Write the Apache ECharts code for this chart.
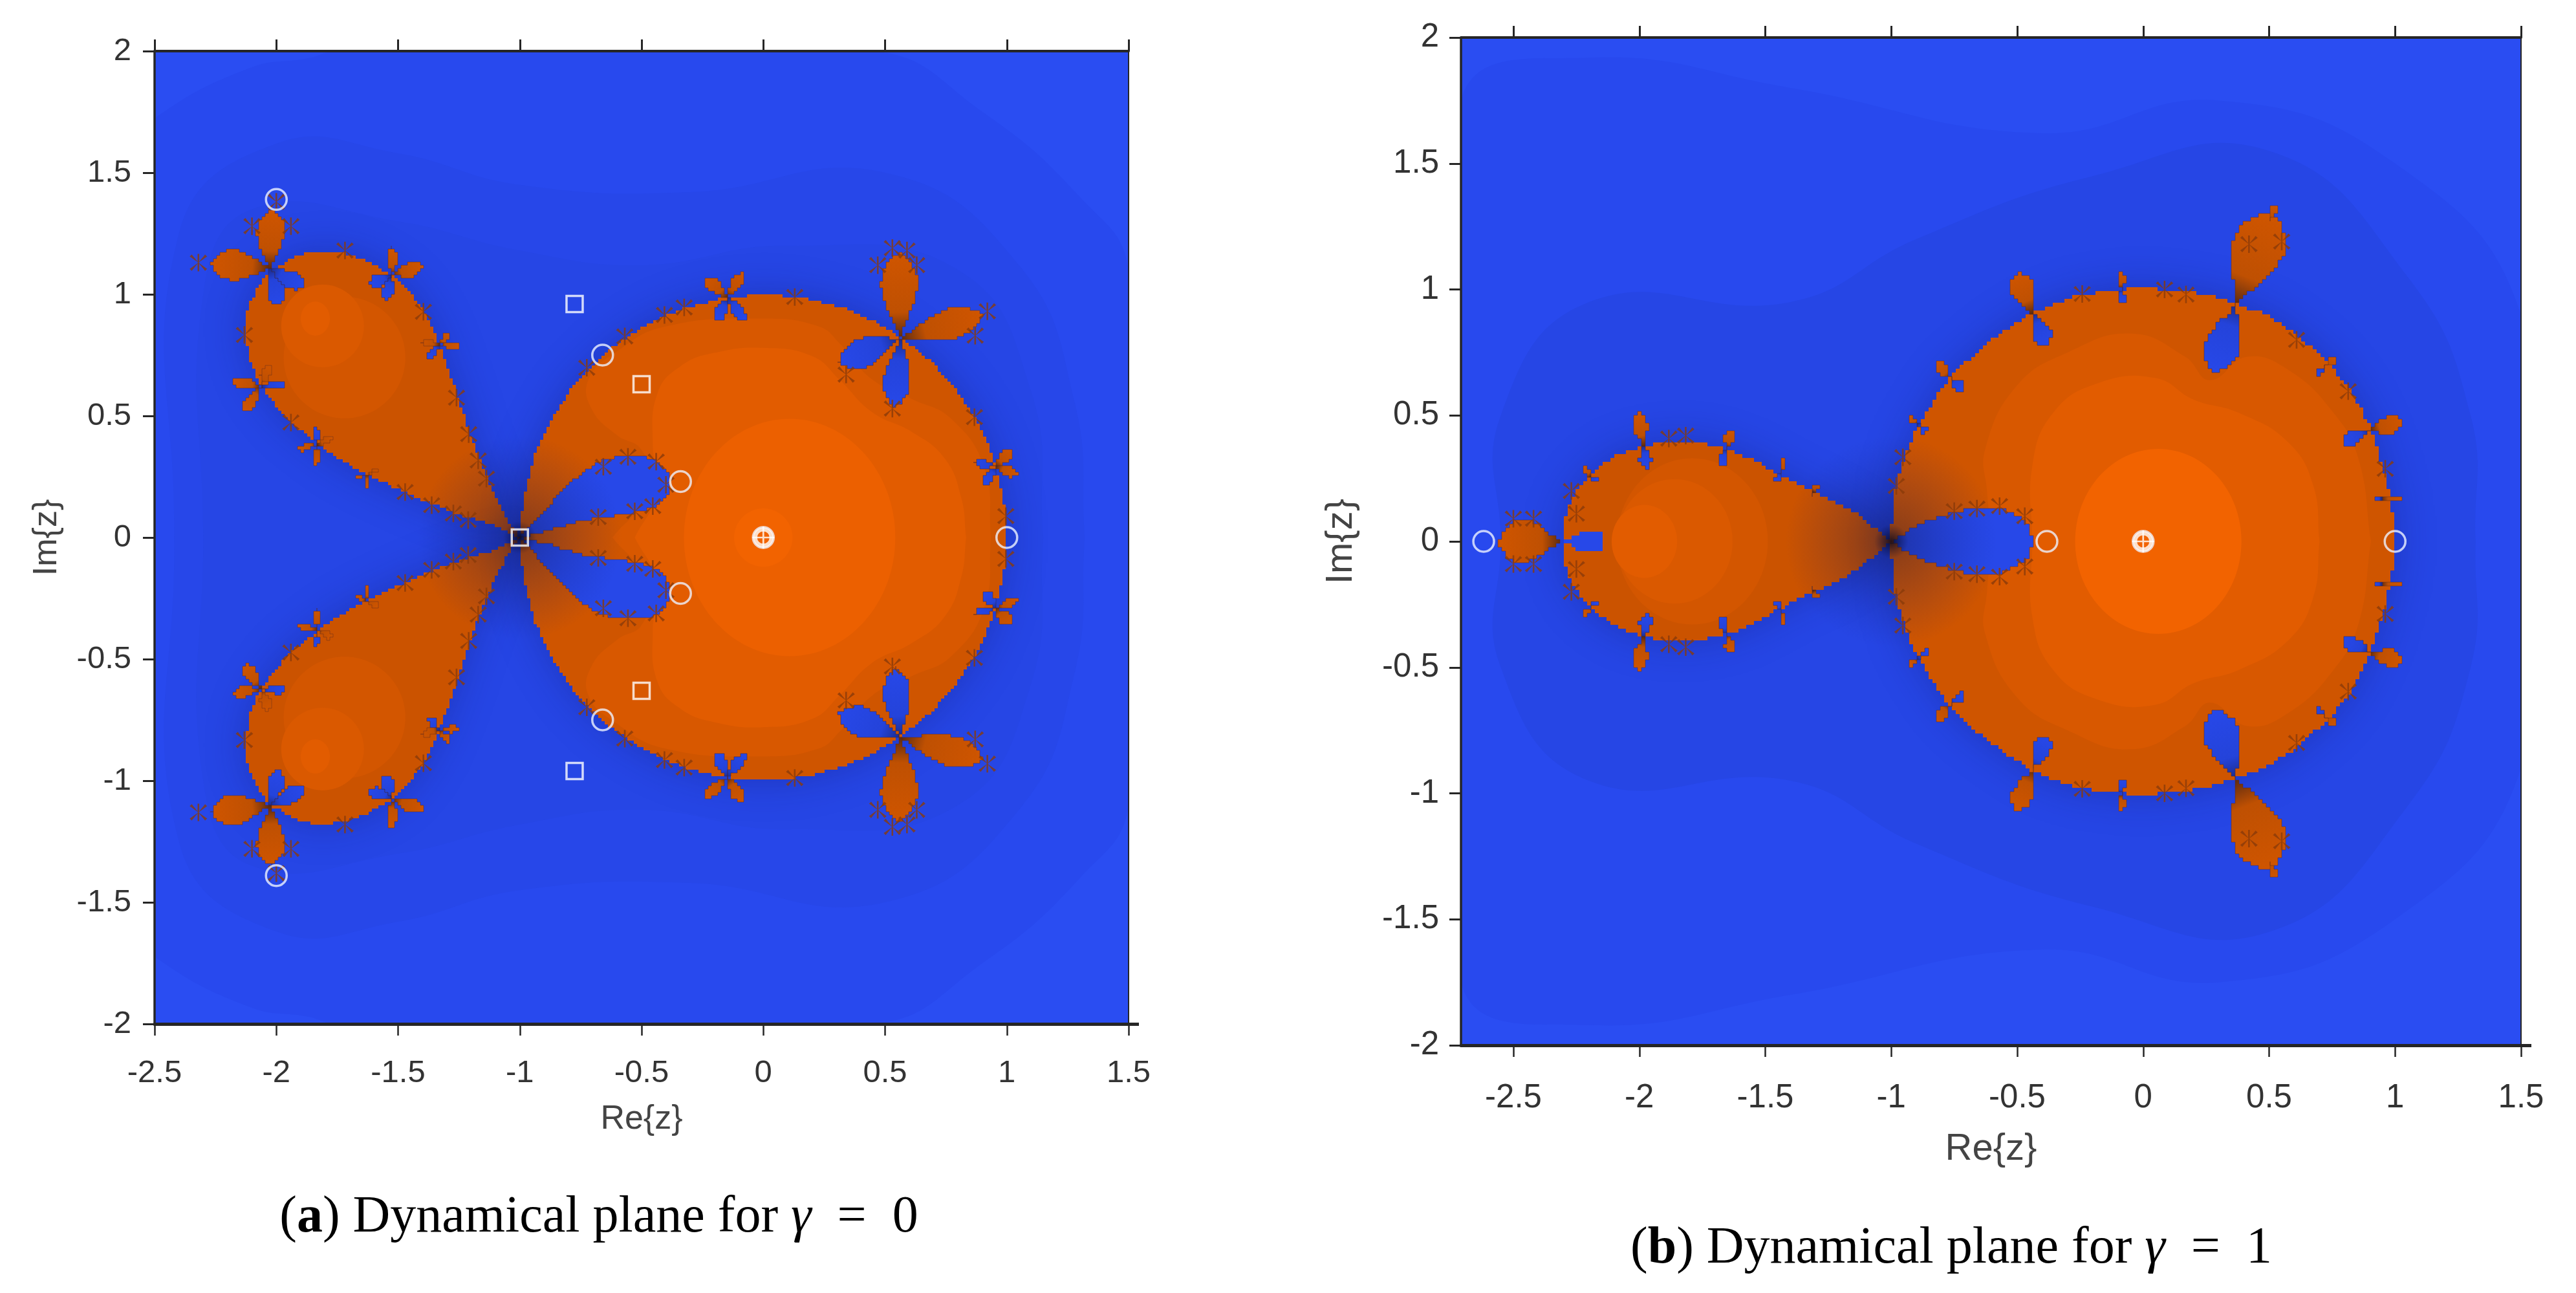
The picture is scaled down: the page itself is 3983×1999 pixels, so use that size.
<!DOCTYPE html>
<html><head><meta charset="utf-8"><style>html,body{margin:0;padding:0;background:#fff}#c{width:3983px;height:1999px}</style>
<script src="https://cdn.jsdelivr.net/npm/echarts@6/dist/echarts.min.js"></script></head><body><div id="c"></div>
<script>
// ---------- tick labels ----------
const xTicks=[-2.5,-2,-1.5,-1,-0.5,0,0.5,1,1.5];
const yTicks=[-2,-1.5,-1,-0.5,0,0.5,1,1.5,2];
const captionA=['(','a',') Dynamical plane for ','γ','  =  0'];
const captionB=['(','b',') Dynamical plane for ','γ','  =  1'];
// ---------- panel (a): upper halves, [Re, Im] ----------
const aBgOuter=[[-2.39,0],[-2.5,0],[-2.5,1.66],[-2.49,1.73],[-2.11,1.93],[-1.87,1.97],[-1.75,2],[0.45,2],[0.9,1.75],[1.3,1.4],[1.5,1.1],[1.5,0]];
const aBgInner=[[-2.42,0],[-2.4,1.25],[-2,1.62],[-1.5,1.58],[-1,1.45],[-0.3,1.42],[0.5,1.5],[1.05,1.12],[1.28,0.55],[1.32,0]];
const aBgNear=[[-2.3,0],[-2.3,1],[-2.1,1.35],[-1.5,1.3],[-1,1.18],[-0.5,1.12],[0.1,1.2],[0.8,1.1],[1.1,0.6],[1.15,0]];
const aLobe=[[-1,0],[-1.103,0.052],[-1.28,0.106],[-1.457,0.181],[-1.648,0.269],[-1.784,0.351],[-1.92,0.459],[-2.001,0.541],[-2.069,0.636],[-2.11,0.731],[-2.127,0.853],[-2.117,0.948],[-2.069,1.043],[-2.026,1.105],[-1.988,1.118],[-1.92,1.159],[-1.838,1.179],[-1.743,1.173],[-1.648,1.145],[-1.525,1.077],[-1.457,1.01],[-1.389,0.921],[-1.335,0.799],[-1.294,0.69],[-1.239,0.527],[-1.185,0.364],[-1.117,0.201],[-1.049,0.065]];
const aLobeBand2=[[-1.72,0.74,0.25,0.25]];
const aLobeBand1=[[-1.81,0.87,0.17,0.17]];
const aLobeBand0=[[-1.84,0.9,0.06,0.07]];
const aDisc=[[-1,0],[-0.985,0.17],[-0.94,0.34],[-0.87,0.49],[-0.77,0.64],[-0.64,0.77],[-0.5,0.865],[-0.34,0.94],[-0.17,0.985],[0,1],[0.17,0.985],[0.34,0.94],[0.46,0.885],[0.562,0.82],[0.68,0.73],[0.78,0.62],[0.87,0.49],[0.94,0.34],[0.985,0.17],[1,0]];
const aBand3=[[-0.62,0],[-0.46,0.2],[-0.5,0.36],[-0.6,0.42],[-0.705,0.528],[-0.718,0.65],[-0.61,0.759],[-0.406,0.867],[0,0.9],[0.23,0.867],[0.312,0.8],[0.447,0.65],[0.61,0.57],[0.772,0.488],[0.908,0.285],[0.935,0]];
const aBand2=[[-0.528,0],[-0.434,0.19],[-0.454,0.379],[-0.434,0.596],[-0.339,0.705],[-0.203,0.759],[0,0.78],[0.203,0.745],[0.312,0.65],[0.447,0.515],[0.61,0.434],[0.745,0.325],[0.813,0.163],[0.833,0]];
const aCore=[[0.108,0,0.434,0.488]];
const aHot=[[0,0,0.12,0.12]];
const aLens=[[-1,0],[-0.92,0.09],[-0.84,0.18],[-0.745,0.27],[-0.66,0.32],[-0.576,0.335],[-0.5,0.335],[-0.44,0.318],[-0.4,0.28],[-0.386,0.244],[-0.38,0.21],[-0.386,0.183],[-0.415,0.145],[-0.447,0.122],[-0.528,0.102],[-0.664,0.081],[-0.745,0.07],[-0.87,0.03]];
const aOrangePetals=[[-2.026,1.105,-2.02,1.35,0.115],[-2.026,1.105,-2.267,1.13,0.125],[-1.525,1.077,-1.525,1.193,0.045],[-1.525,1.077,-1.396,1.118,0.06],[-1.331,0.792,-1.287,0.846,0.03],[-1.331,0.792,-1.248,0.785,0.03],[-1.331,0.792,-1.403,0.806,0.03],[-2.063,0.622,-2.178,0.643,0.045],[-2.063,0.622,-2.029,0.711,0.045],[-2.063,0.622,-2.131,0.52,0.05],[-1.831,0.38,-1.913,0.364,0.03],[-1.831,0.38,-1.77,0.412,0.03],[-1.831,0.38,-1.838,0.296,0.03],[-1.63,0.258,-1.68,0.24,0.02],[-1.63,0.258,-1.58,0.283,0.02],[-1.63,0.258,-1.625,0.2,0.02],[0.562,0.82,0.556,1.172,0.15],[0.562,0.82,0.9,0.915,0.125],[-0.149,0.986,-0.237,1.07,0.05],[-0.149,0.986,-0.081,1.09,0.05],[0.955,0.291,1.016,0.359,0.05],[0.955,0.291,1.043,0.257,0.04]];
const aBluePetals=[[-2.026,1.105,-1.988,0.955,0.07],[-2.026,1.105,-1.886,1.03,0.07],[-1.525,1.077,-1.62,1.04,0.05],[-1.525,1.077,-1.552,0.976,0.05],[-1.331,0.792,-1.375,0.738,0.03],[-2.063,0.622,-1.96,0.629,0.035],[-1.831,0.38,-1.838,0.452,0.02],[0.562,0.82,0.31,0.72,0.12],[0.562,0.82,0.54,0.535,0.11],[-0.149,0.986,-0.19,0.887,0.05],[-0.149,0.986,-0.075,0.894,0.05],[0.955,0.291,0.867,0.312,0.035],[0.955,0.291,0.908,0.217,0.04]];
const aStars=[[-2.131,0.833],[-1.94,0.473],[-1.718,1.18],[-1.26,0.575],[-1.21,0.425],[-1.171,0.317],[-1.137,0.242],[-1.471,0.187],[-1.362,0.133],[-1.273,0.099],[-1.212,0.072],[-1.396,0.928],[-2.0,1.38],[-2.1,1.28],[-1.94,1.28],[-2.32,1.13],[0.129,0.989],[-0.406,0.915],[0.867,0.495],[0.996,0.088],[-0.556,0.332],[-0.44,0.312],[-0.657,0.291],[-0.528,0.108],[-0.678,0.084],[-0.454,0.129],[-0.4,0.217],[-0.725,0.698],[-0.569,0.827],[-0.325,0.946],[0.53,1.19],[0.59,1.18],[0.47,1.12],[0.63,1.12],[0.92,0.93],[0.87,0.83],[0.34,0.67],[0.53,0.53]];
const aCircles=[[-2,1.39],[-2,-1.39],[-0.66,0.75],[-0.66,-0.75],[-0.34,0.23],[-0.34,-0.23],[1,0],[0,0]];
const aSquares=[[-1,0],[-0.775,0.96],[-0.775,-0.96],[-0.5,0.63],[-0.5,-0.63]];
const aCentre=[[0,0]];
// ---------- panel (b) ----------
const bBgOuter=[[-2.5,0],[-2.708,0],[-2.708,1.75],[-2.2,1.92],[-1.4,1.8],[-0.4,1.62],[0.3,1.75],[1.0,1.5],[1.5,0.9],[1.5,0]];
const bBgInner=[[-2.55,0],[-2.55,0.5],[-2.2,0.95],[-1.4,0.95],[-0.9,1.2],[-0.2,1.45],[0.5,1.55],[1.05,1.05],[1.3,0.5],[1.32,0]];
const bLobe=[[-1,0],[-1.139,0.115],[-1.227,0.161],[-1.315,0.201],[-1.448,0.27],[-1.551,0.328],[-1.654,0.368],[-1.757,0.391],[-1.875,0.397],[-1.978,0.379],[-2.082,0.345],[-2.17,0.287],[-2.244,0.207],[-2.288,0.126],[-2.298,0.069],[-2.303,0]];
const bLobeNotch=[[-2.303,0],[-2.25,0.03],[-2.2,0.042],[-2.15,0.042],[-2.14,0]];
const bLobeBand2=[[-1.79,0,0.3,0.33]];
const bLobeBand1=[[-1.86,0,0.23,0.247]];
const bLobeBand0=[[-1.98,0,0.13,0.145]];
const bDisc=[[-1,0],[-0.996,0.144],[-0.963,0.288],[-0.914,0.419],[-0.848,0.537],[-0.766,0.655],[-0.668,0.747],[-0.553,0.838],[-0.439,0.91],[-0.291,0.969],[-0.144,0.996],[0.003,1.006],[0.151,0.993],[0.265,0.976],[0.368,0.941],[0.495,0.897],[0.609,0.819],[0.724,0.72],[0.822,0.603],[0.904,0.445],[0.961,0.262],[0.994,0.092],[0.994,0]];
const bBand3=[[-0.6,0],[-0.62,0.2],[-0.627,0.367],[-0.5,0.62],[-0.3,0.75],[-0.046,0.825],[0.167,0.733],[0.265,0.64],[0.413,0.733],[0.576,0.681],[0.756,0.51],[0.855,0.327],[0.904,0]];
const bBand2=[[-0.44,0],[-0.44,0.3],[-0.357,0.511],[-0.177,0.629],[0.05,0.648],[0.2,0.563],[0.38,0.51],[0.576,0.393],[0.675,0.223],[0.7,0]];
const bCore=[[0.06,0,0.33,0.367]];
const bLens=[[-1,0],[-0.897,0.065],[-0.766,0.111],[-0.668,0.131],[-0.57,0.131],[-0.496,0.098],[-0.447,0.052],[-0.439,0]];
const bOrangePetals=[[-2.31,0,-2.56,0,0.17],[-1.983,0.379,-2.004,0.511,0.06],[-1.654,0.368,-1.635,0.446,0.04],[-1.44,0.276,-1.421,0.328,0.025],[-2.192,0.259,-2.222,0.295,0.025],[-1.308,0.195,-1.289,0.23,0.02],[0.368,0.941,0.511,1.303,0.21],[0.5,1.27,0.527,1.336,0.035],[-0.439,0.906,-0.504,1.068,0.09],[-0.766,0.648,-0.824,0.714,0.05],[-0.897,0.465,-0.93,0.491,0.03],[-0.084,1.002,-0.087,1.068,0.035],[0.724,0.694,0.765,0.734,0.035],[0.901,0.439,1.027,0.478,0.07],[0.945,0.17,1.035,0.177,0.02]];
const bBluePetals=[[-1.983,0.379,-1.971,0.287,0.05],[-1.654,0.368,-1.676,0.293,0.035],[-1.44,0.276,-1.463,0.232,0.025],[-2.192,0.259,-2.17,0.241,0.02],[-1.308,0.195,-1.318,0.178,0.015],[0.368,0.941,0.282,0.668,0.14],[-0.439,0.906,-0.382,0.773,0.075],[-0.766,0.648,-0.709,0.603,0.04],[-0.897,0.465,-0.856,0.432,0.025],[-0.084,1.002,-0.079,0.943,0.03],[0.724,0.694,0.683,0.655,0.03],[0.901,0.439,0.789,0.393,0.055],[0.945,0.17,0.92,0.17,0.02]];
const bStars=[[-1.816,0.42],[-1.883,0.408],[-2.27,0.2],[-2.25,0.11],[-0.242,0.982],[0.085,1.0],[0.17,0.98],[0.609,0.8],[0.814,0.596],[0.961,0.288],[-0.954,0.334],[-0.98,0.22],[-0.66,0.13],[-0.57,0.14],[-0.47,0.1],[-0.75,0.12],[0.42,1.18],[0.55,1.19],[-2.5,0.09],[-2.42,0.09]];
const bCircles=[[-2.618,0],[-0.382,0],[1,0],[0,0]];
const bCentre=[[0,0]];

// ---------- helpers ----------
const flip=a=>a.map(p=>{const q=p.slice();q[1]=-q[1];return q;});
const whole=a=>a.concat(flip(a).reverse());
// staircase outline: the reference is a coarse raster, so outlines land on its cell grid
function stair(pts,cell){
  const out=[];const snap=v=>Math.round(v/cell)*cell;
  for(let i=0;i<pts.length;i++){
    const a=pts[i],b=pts[(i+1)%pts.length],d=Math.hypot(b[0]-a[0],b[1]-a[1]),n=Math.max(1,Math.ceil(d/(cell/2)));
    for(let k=0;k<n;k++){
      const x=snap(a[0]+(b[0]-a[0])*k/n),y=snap(a[1]+(b[1]-a[1])*k/n),l=out[out.length-1];
      if(!l){out.push([x,y]);continue;}
      if(l[0]===x&&l[1]===y)continue;
      if(l[0]!==x&&l[1]!==y)out.push([x,l[1]]);
      out.push([x,y]);
    }
  }
  return out;
}
const CELL=[5,6];
const base={type:'custom',coordinateSystem:'cartesian2d',clip:true,silent:true,animation:false,encode:{x:0,y:1}};
const panels=[];
function poly(g,pts,fill,extra,mode){
  panels.push(Object.assign({},base,{xAxisIndex:g*2,yAxisIndex:g*2,data:pts,
    renderItem:(p,api)=>{ if(p.dataIndex)return null;
      let P=pts.map(q=>api.coord(q)); if(mode==='jag')P=stair(P,CELL[g]);
      return {type:'polygon',shape:{points:P,smooth:mode==='smooth'?0.45:0},style:Object.assign({fill:fill},extra||{})};}}));
}
function ell(g,list,fill){
  panels.push(Object.assign({},base,{xAxisIndex:g*2,yAxisIndex:g*2,data:list,
    renderItem:(p,api)=>{const e=list[p.dataIndex],c=api.coord([e[0],e[1]]),s=api.size([1,1]);
      return {type:'ellipse',shape:{cx:c[0],cy:c[1],rx:e[2]*s[0],ry:e[3]*s[1]},style:{fill:fill}};}}));
}
function petals(g,list,tipCol,midCol,baseCol,edge){
  panels.push(Object.assign({},base,{xAxisIndex:g*2,yAxisIndex:g*2,data:list,
    renderItem:(p,api)=>{const e=list[p.dataIndex],dx=e[2]-e[0],dy=e[3]-e[1],L=Math.hypot(dx,dy),nx=-dy/L,ny=dx/L,n=24;
      const l=[],r=[];
      for(let i=0;i<=n;i++){const t=i/n,h=e[4]/2*Math.pow(Math.sin(Math.PI*Math.pow(t,1.5)),0.75),
        x=e[0]+dx*t,y=e[1]+dy*t;l.push(api.coord([x+nx*h,y+ny*h]));r.unshift(api.coord([x-nx*h,y-ny*h]));}
      const a=api.coord([e[0],e[1]]),b=api.coord([e[2],e[3]]);
      return {type:'polygon',shape:{points:stair(l.concat(r),CELL[g])},style:{
        fill:new echarts.graphic.LinearGradient(a[0],a[1],b[0],b[1],[{offset:0,color:baseCol},{offset:0.3,color:midCol},{offset:1,color:tipCol}],true),
        stroke:edge,lineWidth:1}};}}));
}
function shade(g,pt,radius){
  panels.push(Object.assign({},base,{xAxisIndex:g*2,yAxisIndex:g*2,data:[pt],
    renderItem:(p,api)=>{const c=api.coord(pt),R=radius*api.size([1,1])[0];
      return {type:'circle',shape:{cx:c[0],cy:c[1],r:R},style:{fill:new echarts.graphic.RadialGradient(c[0],c[1],R,[{offset:0,color:'rgba(8,8,30,0.85)'},{offset:0.16,color:'rgba(14,18,70,0.32)'},{offset:1,color:'rgba(20,30,120,0)'}],true)}};}}));
}
const starPath='path://M50 50L18 8L8 18ZM50 50L92 18L82 8ZM50 50L92 82L82 92ZM50 50L8 82L18 92ZM46 5H54V95H46Z';
function stars(g,list){
  panels.push({type:'scatter',xAxisIndex:g*2,yAxisIndex:g*2,data:list,symbol:starPath,symbolSize:27,silent:true,animation:false,clip:true,
    itemStyle:{color:'#8a3b0a'}});
}
function rings(g,list){panels.push({type:'scatter',xAxisIndex:g*2,yAxisIndex:g*2,data:list,symbol:'circle',symbolSize:32,silent:true,animation:false,z:20,
    itemStyle:{color:'rgba(0,0,0,0)',borderColor:'#eef2ff',borderWidth:3.5}});}
function boxes(g,list){panels.push({type:'scatter',xAxisIndex:g*2,yAxisIndex:g*2,data:list,symbol:'rect',symbolSize:25,silent:true,animation:false,z:20,
    itemStyle:{color:'rgba(0,0,0,0)',borderColor:'#ffffff',borderWidth:3.5}});}
function centre(g,list){
  panels.push({type:'scatter',xAxisIndex:g*2,yAxisIndex:g*2,data:list,symbol:'circle',symbolSize:25,silent:true,animation:false,z:20,
    itemStyle:{color:'rgba(0,0,0,0)',borderColor:'#ffffff',borderWidth:6}});
  panels.push({type:'scatter',xAxisIndex:g*2,yAxisIndex:g*2,data:list,symbol:'path://M46 0H54V46H100V54H54V100H46V54H0V46H46Z',symbolSize:34,silent:true,animation:false,z:21,
    itemStyle:{color:'#ffffff'}});
}
const C={o:'#cf5500',b3:'#d85800',b2:'#e25c00',b1:'#ec6000',hot:'#f26300'};
const L={o:'#cb5300',b3:'#d35600',b2:'#da5900',b1:'#e25c00'};
const edge='rgba(90,40,30,0.45)';
const halo={shadowBlur:60,shadowColor:'rgba(18,28,120,0.38)'};
const blue='#2748e8';
const pTipO='#cf5500',pMidO='#bf5002',pBaseO='#5a2a12';
const pTipB='#2748e8',pMidB='#2443da',pBaseB='#1c2c8c';

// panel (a)
poly(0,whole(aBgOuter),'#2849ee',null,'smooth');
poly(0,whole(aBgInner),'#2747e9',null,'smooth');
poly(0,whole(aBgNear),'#2646e5',null,'smooth');
poly(0,aLobe,L.o,halo,'jag'); poly(0,flip(aLobe),L.o,halo,'jag');
poly(0,whole(aDisc),C.o,halo,'jag');
ell(0,aLobeBand2.concat(flip(aLobeBand2)),L.b3);
ell(0,aLobeBand1.concat(flip(aLobeBand1)),L.b2);
ell(0,aLobeBand0.concat(flip(aLobeBand0)),L.b1);
poly(0,whole(aBand3),C.b3,null,'smooth');
poly(0,whole(aBand2),C.b2,null,'smooth');
ell(0,aCore,C.b1);
ell(0,aHot,C.hot);
poly(0,aLens,blue,{stroke:edge,lineWidth:1},'jag'); poly(0,flip(aLens),blue,{stroke:edge,lineWidth:1},'jag');
petals(0,aBluePetals.concat(aBluePetals.map(e=>[e[0],-e[1],e[2],-e[3],e[4]])),pTipB,pMidB,pBaseB,'rgba(60,35,60,0.5)');
petals(0,aOrangePetals.concat(aOrangePetals.map(e=>[e[0],-e[1],e[2],-e[3],e[4]])),pTipO,pMidO,pBaseO,edge);
stars(0,aStars.concat(flip(aStars)));
shade(0,[-1,0],0.42);
rings(0,aCircles); boxes(0,aSquares); centre(0,aCentre);

// panel (b)
poly(1,whole(bBgOuter),'#2849ee',null,'smooth');
poly(1,whole(bBgInner),'#2646e5',null,'smooth');
poly(1,whole(bLobe),L.o,halo,'jag');
ell(1,bLobeBand2,L.b3);
ell(1,bLobeBand1,L.b2);
ell(1,bLobeBand0,L.b1);
poly(1,whole(bLobeNotch),blue,null,'jag');
poly(1,whole(bDisc),C.o,halo,'jag');
poly(1,whole(bBand3),C.b3,null,'smooth');
poly(1,whole(bBand2),C.b2,null,'smooth');
ell(1,bCore,C.hot);
poly(1,whole(bLens),blue,{stroke:edge,lineWidth:1},'jag');
petals(1,bBluePetals.concat(bBluePetals.map(e=>[e[0],-e[1],e[2],-e[3],e[4]])),pTipB,pMidB,pBaseB,'rgba(60,35,60,0.5)');
const bOrangeHalf=bOrangePetals.filter(e=>e[1]!==0);
petals(1,bOrangePetals.concat(bOrangeHalf.map(e=>[e[0],-e[1],e[2],-e[3],e[4]])),pTipO,pMidO,pBaseO,edge);
stars(1,bStars.concat(flip(bStars)));
shade(1,[-1,0],0.42);
rings(1,bCircles); centre(1,bCentre);

// ---------- axes ----------
const ink='#262626', txt='#333333', sans='"Liberation Sans",Arial,sans-serif';
function axes(g,xmin,fs,nameFs,xGap,yGap,mX,mY){
  const tk=w=>({show:true,length:18,inside:false,lineStyle:{color:ink,width:w},customValues:xTicks});
  const xA={gridIndex:g,type:'value',min:xmin,max:1.5,position:'bottom',z:10,splitLine:{show:false},
    axisLine:{show:true,onZero:false,lineStyle:{color:ink,width:5}},axisTick:tk(2.5),
    axisLabel:{show:true,customValues:xTicks,margin:mX,fontSize:fs,fontFamily:sans,color:txt,hideOverlap:false,showMinLabel:true,showMaxLabel:true},
    name:'Re{z}',nameLocation:'middle',nameGap:xGap,nameTextStyle:{fontSize:nameFs,fontFamily:sans,color:'#444444'}};
  const xT={gridIndex:g,type:'value',min:xmin,max:1.5,position:'top',z:10,splitLine:{show:false},
    axisLine:{show:true,onZero:false,lineStyle:{color:ink,width:4}},axisTick:tk(3),axisLabel:{show:false}};
  const yA={gridIndex:g,type:'value',min:-2,max:2,position:'left',z:10,splitLine:{show:false},
    axisLine:{show:true,onZero:false,lineStyle:{color:ink,width:3.5}},
    axisTick:{show:true,length:18,lineStyle:{color:ink,width:3},customValues:yTicks},
    axisLabel:{show:true,customValues:yTicks,margin:mY,fontSize:fs,fontFamily:sans,color:txt,showMinLabel:true,showMaxLabel:true},
    name:'Im{z}',nameLocation:'middle',nameGap:yGap,nameTextStyle:{fontSize:nameFs,fontFamily:sans,color:'#444444'}};
  const yR={gridIndex:g,type:'value',min:-2,max:2,position:'right',z:10,splitLine:{show:false},
    axisLine:{show:true,onZero:false,lineStyle:{color:ink,width:2}},
    axisTick:{show:true,length:16,lineStyle:{color:ink,width:5},customValues:[-2]},axisLabel:{show:false}};
  return {x:[xA,xT],y:[yA,yR]};
}
const A=axes(0,-2.5,49,52,122,140,52,36);
const B=axes(1,-2.708,51,58,132,156,56,34);
const serif='"Liberation Serif","Times New Roman",serif';
const cap=(c,x,y)=>({left:x,top:y,textAlign:'center',text:`${c[0]}{b|${c[1]}}${c[2]}{i|${c[3]}}${c[4]}`,
  textStyle:{fontFamily:serif,fontSize:80,fontWeight:'normal',color:'#000',rich:{b:{fontFamily:serif,fontSize:80,fontWeight:'bold',color:'#000'},i:{fontFamily:serif,fontSize:80,fontStyle:'italic',color:'#000'}}}});
const chart=echarts.init(document.getElementById('c'),null,{renderer:'canvas'});
chart.setOption({animation:false,backgroundColor:'#ffffff',
  title:[cap(captionA,921,1838),cap(captionB,3012,1886)],
  grid:[{left:239,right:2238,top:79,bottom:416,show:true,backgroundColor:'#2a4df2',borderWidth:0},
        {left:2259,right:85,top:58,bottom:383,show:true,backgroundColor:'#2a4df2',borderWidth:0}],
  xAxis:[A.x[0],A.x[1],B.x[0],B.x[1]],
  yAxis:[A.y[0],A.y[1],B.y[0],B.y[1]],
  series:panels});
</script></body></html>
